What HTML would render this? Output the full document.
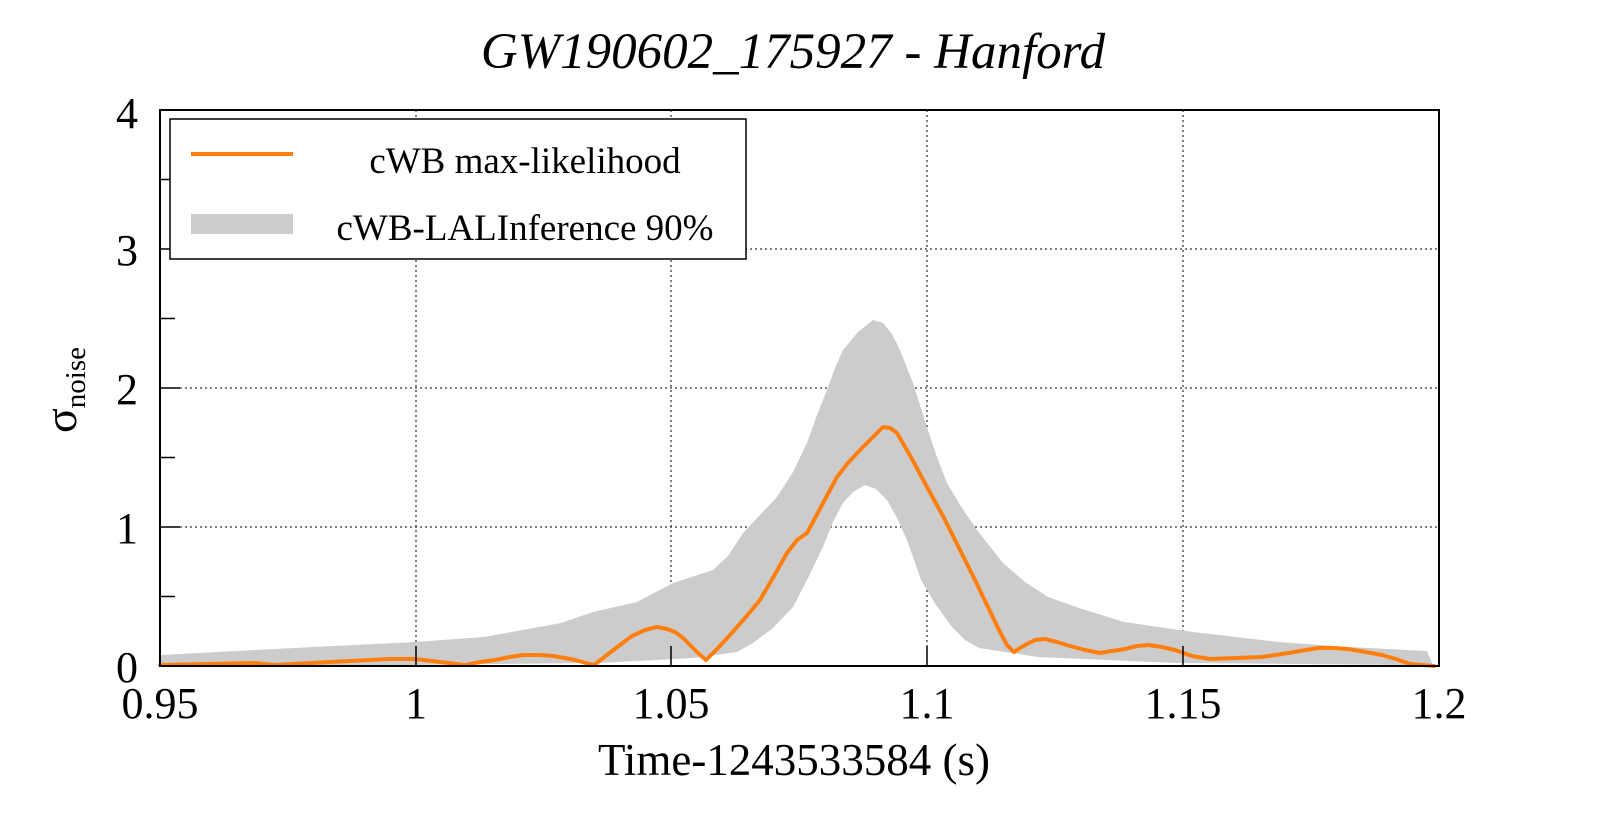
<!DOCTYPE html>
<html><head><meta charset="utf-8"><style>
html,body{margin:0;padding:0;background:#fff;}
svg{display:block;}
text{font-family:"Liberation Serif",serif;fill:#000;}
</style></head><body>
<svg width="1599" height="813" viewBox="0 0 1599 813" xmlns="http://www.w3.org/2000/svg">
<rect width="1599" height="813" fill="#fff"/>
<g stroke="#000" stroke-width="1" stroke-dasharray="2,3">
<line x1="160" y1="527" x2="1439" y2="527"/>
<line x1="160" y1="388" x2="1439" y2="388"/>
<line x1="160" y1="249" x2="1439" y2="249"/>
<line x1="416" y1="110" x2="416" y2="666"/>
<line x1="671" y1="110" x2="671" y2="666"/>
<line x1="927" y1="110" x2="927" y2="666"/>
<line x1="1183" y1="110" x2="1183" y2="666"/>
</g>
<polygon fill="#cccccc" points="160,655 255,650 415,642 484,637 561,623 593,612 637,602 673,583 713,570 728,556 743,533 760,515 777,497 793,472 807,443 817,415 827,390 835,368 843,350 858,332 873,320 883,323 892,334 900,350 913,383 920,405 927,427 937,457 947,483 962,508 977,530 1003,563 1025,582 1048,597 1079,608 1124,622 1193,632 1279,642 1348,647 1427,651 1432,663 1434,666 1417,665 1175,663 1038,657 979,648 965,640 952,627 936,605 921,580 907,540 897,518 887,500 876,489 865,485 853,492 843,503 833,522 823,547 808,578 793,607 773,628 753,643 737,652 693,658 599,663 400,665 160,666"/>
<polyline fill="none" stroke="#ff7f0e" stroke-width="4" stroke-linejoin="round" stroke-linecap="round" points="160,665 255,663 274,665 330,662 389,659 415,659 440,662 465,665 480,662 495,660 510,657 523,655 540,655 553,656 565,658 575,660 586,663 594,665 607,655 620,645 632,636 645,630 657,627 667,629 675,632 683,638 690,645 698,653 706,660 718,648 730,635 745,618 760,600 774,576 787,553 797,540 807,533 822,505 837,477 848,463 860,450 872,438 883,427 890,428 897,433 912,459 927,487 944,518 960,550 973,576 986,603 1000,632 1007,645 1014,652 1020,648 1027,644 1035,640 1045,639 1057,642 1070,646 1085,650 1100,653 1112,651 1125,649 1137,646 1148,645 1162,647 1175,650 1192,656 1210,659 1236,658 1262,657 1282,654 1300,651 1318,648 1334,648 1348,649 1360,651 1382,655 1396,659 1410,664 1434,666"/>
<rect x="160" y="110" width="1279" height="556" fill="none" stroke="#000" stroke-width="2"/>
<g stroke="#000" stroke-width="1.5">
<line x1="160" y1="596.5" x2="175" y2="596.5"/><line x1="160" y1="527" x2="180" y2="527"/>
<line x1="160" y1="457.5" x2="175" y2="457.5"/><line x1="160" y1="388" x2="180" y2="388"/>
<line x1="160" y1="318.5" x2="175" y2="318.5"/><line x1="160" y1="249" x2="180" y2="249"/>
<line x1="160" y1="179.5" x2="175" y2="179.5"/>
<line x1="416" y1="666" x2="416" y2="646"/><line x1="671" y1="666" x2="671" y2="646"/>
<line x1="927" y1="666" x2="927" y2="646"/><line x1="1183" y1="666" x2="1183" y2="646"/>
</g>
<rect x="170" y="119" width="576" height="140" fill="#fff" stroke="#000" stroke-width="1.5"/>
<line x1="191" y1="154" x2="293" y2="154" stroke="#ff7f0e" stroke-width="4"/>
<rect x="191" y="214" width="102" height="20" fill="#cccccc"/>
<text x="525" y="173" font-size="37" text-anchor="middle">cWB max-likelihood</text>
<text x="525" y="240" font-size="37" text-anchor="middle">cWB-LALInference 90%</text>
<text x="793" y="68" font-size="51" font-style="italic" text-anchor="middle">GW190602_175927 - Hanford</text>
<g font-size="44" text-anchor="end">
<text x="138" y="682">0</text>
<text x="138" y="543">1</text>
<text x="138" y="404">2</text>
<text x="138" y="265">3</text>
<text x="138" y="128">4</text>
</g>
<g font-size="44" text-anchor="middle">
<text x="160" y="718">0.95</text>
<text x="416" y="718">1</text>
<text x="671" y="718">1.05</text>
<text x="927" y="718">1.1</text>
<text x="1183" y="718">1.15</text>
<text x="1439" y="718">1.2</text>
</g>
<text x="794" y="775" font-size="45" text-anchor="middle">Time-1243533584 (s)</text>
<g transform="translate(76,390) rotate(-90)">
<text x="0" y="0" font-size="46" text-anchor="middle">σ<tspan font-size="29" dy="9">noise</tspan></text>
</g>
</svg>
</body></html>
